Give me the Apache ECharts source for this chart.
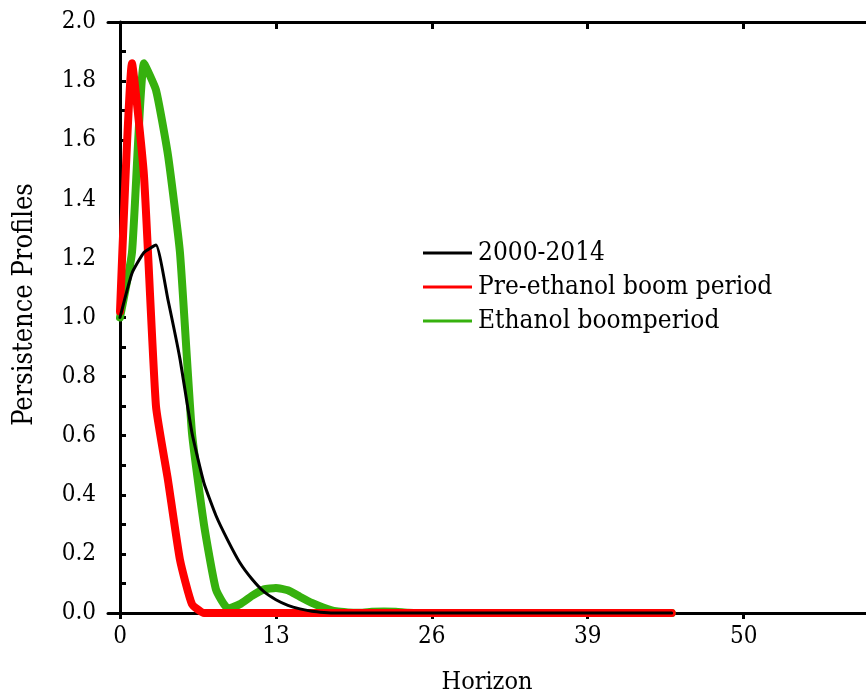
<!DOCTYPE html>
<html>
<head>
<meta charset="utf-8">
<script src="https://cdn.jsdelivr.net/npm/echarts@6/dist/echarts.min.js"></script>
<style>html,body{margin:0;padding:0;background:#fff}#c{width:866px;height:693px}</style>
</head>
<body>
<div id="c"></div>
<script>
const horizon = [0,1,2,3,4,5,6,7,8,9,10,11,12,13,14,15,16,17,18,19,20,21,22,23,24,25,26,27,28,29,30,31,32,33,34,35,36,37,38,39,40,41,42,43,44,45,46];
const fullSample = [1.0,1.15,1.22,1.245,1.06,0.86,0.61,0.44,0.33,0.245,0.17,0.115,0.072,0.045,0.026,0.014,0.006,0.002,0,0,0,0,0,0,0,0,0,0,0,0,0,0,0,0,0,0,0,0,0,0,0,0,0,0,0,0,0];
const preBoom = [1.02,1.86,1.48,0.70,0.45,0.18,0.03,0,0,0,0,0,0,0,0,0,0,0,0,0,0,0,0,0,0,0,0,0,0,0,0,0,0,0,0,0,0,0,0,0,0,0,0,0,0,0,0];
const ethanolBoom = [1.0,1.22,1.86,1.77,1.55,1.22,0.61,0.30,0.08,0.015,0.03,0.058,0.08,0.085,0.077,0.055,0.034,0.018,0.006,0.002,0.001,0.004,0.005,0.004,0.001,0,0,0,0,0,0,0,0,0,0,0,0,0,0,0,0,0,0,0,0,0,0];
const seriesNames = ['2000-2014','Pre-ethanol boom period','Ethanol boomperiod'];
const xTickValues = [0,13,26,39,52];
const xTickLabels = ['0','13','26','39','50'];

const FONT = "'DejaVu Serif Condensed', 'DejaVu Serif', serif";
const pairs = arr => horizon.map((h,i)=>[h,arr[i]]);

const chart = echarts.init(document.getElementById('c'), null, {renderer:'canvas'});
const axisLine = {show:true, lineStyle:{color:'#000', width:3}};
chart.setOption({
  animation:false,
  backgroundColor:'#fff',
  grid:{left:108, right:0, top:22, bottom:80, containLabel:false, outerBoundsMode:'none'},
  legend:{
    orient:'vertical', left:418, top:235,
    itemWidth:49, itemHeight:3, itemGap:8, icon:'rect',
    data:seriesNames,
    textStyle:{fontFamily:FONT, fontSize:26, color:'#000', lineHeight:26, padding:[0,0,0,1]}
  },
  xAxis:[{
    type:'value', min:-1, max:62.2, position:'bottom',
    axisLine:axisLine,
    axisTick:{show:true, inside:false, length:6, customValues:xTickValues, lineStyle:{color:'#000', width:3}},
    axisLabel:{customValues:xTickValues, formatter:v=>xTickLabels[xTickValues.indexOf(v)], fontFamily:FONT, fontSize:24, color:'#000', margin:12},
    splitLine:{show:false},
    name:'Horizon', nameLocation:'middle', nameGap:57,
    nameTextStyle:{fontFamily:FONT, fontSize:25, color:'#000'}
  },{
    type:'value', min:-1, max:62.2, position:'top',
    axisLine:axisLine,
    axisTick:{show:true, inside:true, length:7, customValues:xTickValues, lineStyle:{color:'#000', width:3}},
    axisLabel:{show:false},
    splitLine:{show:false}
  }],
  yAxis:{
    type:'value', min:0, max:2, interval:0.2,
    axisLine:axisLine,
    axisTick:{show:true, inside:true, length:6, lineStyle:{color:'#000', width:3}},
    minorTick:{show:true, splitNumber:2, length:6, lineStyle:{color:'#000', width:3}},
    axisLabel:{formatter:v=>v.toFixed(1), fontFamily:FONT, fontSize:24, color:'#000', margin:12},
    splitLine:{show:false},
    name:'Persistence Profiles', nameLocation:'middle', nameGap:70,
    nameTextStyle:{fontFamily:FONT, fontSize:27, color:'#000', padding:[0,0,0,26]}
  },
  series:[
    {name:seriesNames[0], type:'line', data:pairs(fullSample), showSymbol:false, smooth:0.15, clip:false, z:5,
     color:'#000', lineStyle:{color:'#000', width:3, cap:'round', join:'round'}},
    {name:seriesNames[1], type:'line', data:pairs(preBoom), showSymbol:false, smooth:0.15, clip:false, z:4,
     color:'#ff0000', lineStyle:{color:'#ff0000', width:8, cap:'round', join:'round'}},
    {name:seriesNames[2], type:'line', data:pairs(ethanolBoom), showSymbol:false, smooth:0.15, clip:false, z:3,
     color:'#36b10e', lineStyle:{color:'#36b10e', width:8, cap:'round', join:'round'}}
  ]
});
</script>
</body>
</html>
